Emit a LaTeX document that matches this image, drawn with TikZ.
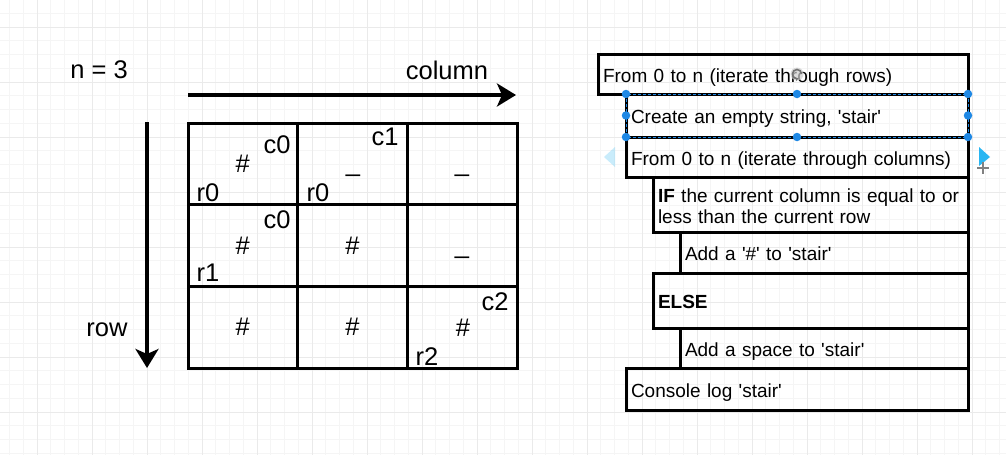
\documentclass[tikz,border=0pt]{standalone}
\usepackage{fontspec}
\setmainfont{Liberation Sans}
\usetikzlibrary{arrows.meta}
\definecolor{selblue}{HTML}{1E88E5}
\definecolor{gridmajor}{HTML}{EAEAEA}
\definecolor{gridminor}{HTML}{F5F5F5}
\definecolor{hintblue}{HTML}{29B6F2}
\newcommand{\sq}{\textquotesingle}
\begin{document}
\begin{tikzpicture}[x=1pt,y=-1pt,
  cell/.style={draw, line width=3pt, minimum width=109.67pt, minimum height=81.67pt, inner sep=0pt, outer sep=0pt, anchor=north west},
  lbl/.style={font=\fontsize{25.5}{30}\selectfont, inner sep=0pt},
  stepbox/.style={draw, line width=3pt, anchor=north west, inner xsep=5pt, inner ysep=0pt, outer sep=0pt, align=left, font=\fontsize{19}{21}\selectfont, text height=16pt, text depth=0pt},
  bigarrow/.style={line width=4.5pt, -{Stealth[length=19pt,width=23pt,inset=5pt]}},
  handle/.style={circle, fill=selblue, inner sep=0pt, minimum size=8.5pt},
]
\useasboundingbox (0,0) rectangle (1006,455);
\fill[white] (0,0) rectangle (1006,455);
% background grid
\foreach \i in {0,...,72} {\draw[gridminor, line width=0.8pt] ({9.5+13.75*\i},0) -- ({9.5+13.75*\i},455);}
\foreach \i in {0,...,33} {\draw[gridminor, line width=0.8pt] (0,{-0.5+13.75*\i}) -- (1006,{-0.5+13.75*\i});}
\foreach \i in {0,...,17} {\draw[gridmajor, line width=1pt] ({37+55*\i},0) -- ({37+55*\i},455);}
\foreach \i in {0,...,7} {\draw[gridmajor, line width=1pt] (0,{27+55*\i}) -- (1006,{27+55*\i});}

% labels
\node[lbl] (nlab) at (99,70) {n = 3};
\node[lbl] (collab) at (447,70) {column};
\node[lbl] (rowlab) at (107,330) {row};

% arrows
\coordinate (colS) at (188,95);
\coordinate (colE) at (516,95);
\coordinate (rowS) at (147,122);
\coordinate (rowE) at (147,368);
\draw[bigarrow] (colS) -- (colE);
\draw[bigarrow] (rowS) -- (rowE);

% table
\node[cell] (c00) at (188,123) {};
\node[cell] (c01) at (297.67,123) {};
\node[cell] (c02) at (407.33,123) {};
\node[cell] (c10) at (188,204.67) {};
\node[cell] (c11) at (297.67,204.67) {};
\node[cell] (c12) at (407.33,204.67) {};
\node[cell] (c20) at (188,286.33) {};
\node[cell] (c21) at (297.67,286.33) {};
\node[cell] (c22) at (407.33,286.33) {};

% cell contents
\node[lbl] (t00c) at (277,145) {c0};
\node[lbl] (t00h) at (c00.center) {\#};
\node[lbl] (t00r) at (208,193) {r0};
\node[lbl] (t01c) at (385,137) {c1};
\node[lbl, anchor=base] (t01u) at (353,171) {\_};
\node[lbl] (t01r) at (318,193) {r0};
\node[lbl, anchor=base] (t02u) at (462,171) {\_};
\node[lbl] (t10c) at (277,220) {c0};
\node[lbl] (t10h) at (c10.center) {\#};
\node[lbl] (t10r) at (208,273) {r1};
\node[lbl] (t11h) at (c11.center) {\#};
\node[lbl, anchor=base] (t12u) at (462,253) {\_};
\node[lbl] (t20h) at (c20.center) {\#};
\node[lbl] (t21h) at (c21.center) {\#};
\node[lbl] (t22c) at (495,302) {c2};
\node[lbl] (t22h) at (463,328) {\#};
\node[lbl] (t22r) at (427,357) {r2};

% algorithm boxes
\node[stepbox, minimum width=370pt, text width=360pt, minimum height=40pt] (b1) at (598,54) {From 0 to n (iterate through rows)};
\node[stepbox, minimum width=342pt, text width=332pt, minimum height=43pt] (b2) at (626,94) {Create an empty string, \sq stair\sq};
\node[stepbox, minimum width=342pt, text width=332pt, minimum height=40pt] (b3) at (626,137) {From 0 to n (iterate through columns)};
\node[stepbox, minimum width=315pt, text width=305pt, minimum height=55pt, text depth=21pt] (b4) at (653,177) {\textbf{IF} the current column is equal to or\\less than the current row};
\node[stepbox, minimum width=288pt, text width=278pt, minimum height=41pt] (b5) at (680,232) {Add a \sq\#\sq{} to \sq stair\sq};
\node[stepbox, minimum width=315pt, text width=305pt, minimum height=55pt] (b6) at (653,273) {\textbf{ELSE}};
\node[stepbox, minimum width=288pt, text width=278pt, minimum height=40pt] (b7) at (680,328) {Add a space to \sq stair\sq};
\node[stepbox, minimum width=342pt, text width=332pt, minimum height=42pt] (b8) at (626,368) {Console log \sq stair\sq};

% selection handles on b2
\draw[selblue, line width=1pt, dash pattern=on 3pt off 2pt] (b2.north west) rectangle (b2.south east);
\node[handle] (h1) at (b2.north west) {};
\node[handle] (h2) at (b2.north) {};
\node[handle] (h3) at (b2.north east) {};
\node[handle] (h4) at (b2.west) {};
\node[handle] (h5) at (b2.east) {};
\node[handle] (h6) at (b2.south west) {};
\node[handle] (h7) at (b2.south) {};
\node[handle] (h8) at (b2.south east) {};
% rotation handle
\fill[gray!40, opacity=0.7] (797,74) circle (6.5pt);
\draw[gray!90!black, line width=1.6pt, -{Stealth[length=3.5pt,width=4pt]}] (801.5,74) arc (0:290:4.5pt);
% hint triangles
\fill[hintblue, opacity=0.25] (615,147) -- (615,167) -- (604,157) -- cycle;
\fill[hintblue] (979,147) -- (979,166) -- (990,157) -- cycle;
% cursor
\draw[gray, line width=1.3pt] (977,168) -- (989,168) (983,162) -- (983,174);
\end{tikzpicture}
\end{document}
